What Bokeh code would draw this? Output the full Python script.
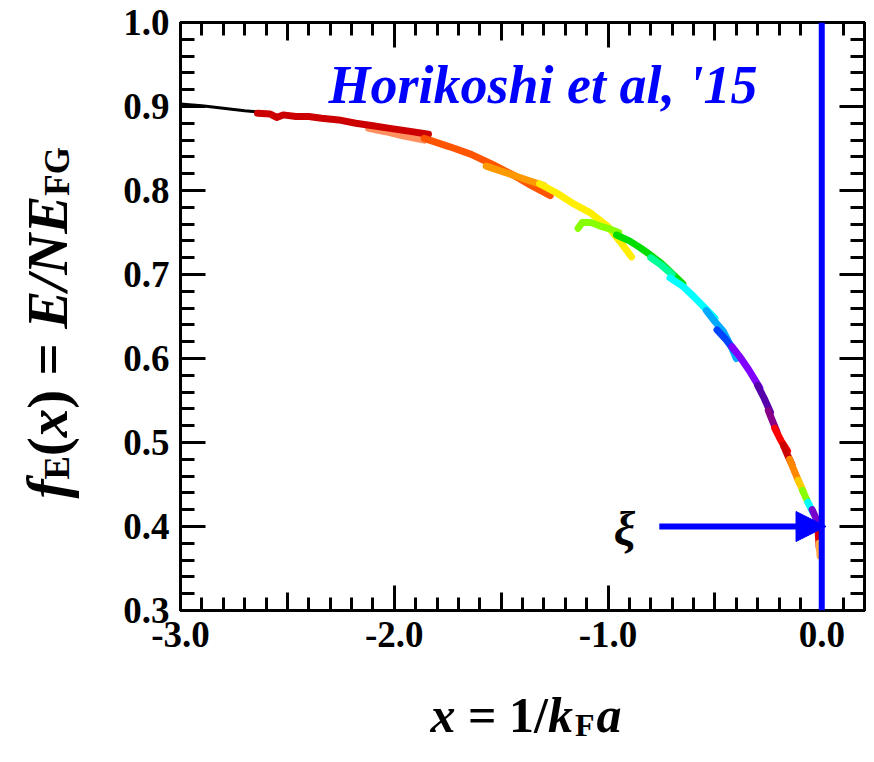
import math
from bokeh.plotting import figure
from bokeh.layouts import row, column
from bokeh.models import (Range1d, LinearAxis, FixedTicker, PrintfTickFormatter,
                          CustomJSTickFormatter, Span, Arrow, NormalHead, Label)
from bokeh.embed import file_html
from bokeh.resources import INLINE

# ---------------- data ----------------
black_x = [-3.00, -2.90, -2.80, -2.70, -2.62]
black_y = [0.903, 0.901, 0.898, 0.895, 0.893]

darkred_x = [-2.64, -2.58, -2.55, -2.52, -2.46, -2.40, -2.34, -2.26, -2.18, -2.10, -2.02, -1.94, -1.84]
darkred_y = [0.892, 0.891, 0.887, 0.890, 0.888, 0.888, 0.886, 0.884, 0.880, 0.877, 0.874, 0.871, 0.867]

salmon_x = [-2.12, -2.04, -1.96, -1.86]
salmon_y = [0.874, 0.870, 0.865, 0.860]

orangered_x = [-1.86, -1.74, -1.64, -1.54, -1.44, -1.36, -1.27]
orangered_y = [0.862, 0.852, 0.843, 0.831, 0.818, 0.806, 0.794]

orange_x = [-1.57, -1.50, -1.43, -1.36, -1.30]
orange_y = [0.829, 0.823, 0.817, 0.811, 0.806]

yellow_x = [-1.32, -1.24, -1.16, -1.08, -1.00, -0.94, -0.89]
yellow_y = [0.808, 0.797, 0.784, 0.773, 0.757, 0.738, 0.721]

ygreen_x = [-1.14, -1.12, -1.08, -1.04, -1.00, -0.95]
ygreen_y = [0.755, 0.762, 0.762, 0.758, 0.755, 0.750]

green_x = [-0.96, -0.90, -0.85, -0.80, -0.75, -0.70, -0.65]
green_y = [0.747, 0.740, 0.732, 0.723, 0.713, 0.701, 0.689]

mint_x = [-0.80, -0.75, -0.70]
mint_y = [0.720, 0.711, 0.700]

cyan_x = [-0.71, -0.65, -0.60, -0.55, -0.50]
cyan_y = [0.696, 0.686, 0.674, 0.661, 0.648]

sky_x = [-0.54, -0.50, -0.46, -0.42, -0.40]
sky_y = [0.657, 0.644, 0.632, 0.612, 0.600]

blue_x = [-0.49, -0.45, -0.41]
blue_y = [0.634, 0.623, 0.610]

violet_x = [-0.42, -0.38, -0.34, -0.29]
violet_y = [0.614, 0.601, 0.586, 0.565]

indigo_x = [-0.30, -0.27, -0.24]
indigo_y = [0.568, 0.553, 0.536]

purple_x = [-0.25, -0.21]
purple_y = [0.538, 0.513]

red_x = [-0.22, -0.19, -0.16]
red_y = [0.517, 0.502, 0.490]

darkred2_x = [-0.18, -0.16, -0.14]
darkred2_y = [0.497, 0.485, 0.474]

orange2_x = [-0.15, -0.13, -0.105]
orange2_y = [0.480, 0.467, 0.452]

yellow2_x = [-0.11, -0.085]
yellow2_y = [0.455, 0.441]

green2_x = [-0.09, -0.065]
green2_y = [0.443, 0.429]

cyan2_x = [-0.065, -0.04]
cyan2_y = [0.429, 0.416]

purple2_x = [-0.045, -0.01]
purple2_y = [0.420, 0.400]

redtail_x = [-0.018, -0.012]
redtail_y = [0.398, 0.375]

orangetail_x = [-0.012, -0.008]
orangetail_y = [0.380, 0.365]

xi_value = 0.40          # E/N E_FG at unitarity (arrow level)
arrow_from_x = -0.76

x_ticks = [-3.0, -2.0, -1.0, 0.0]
x_mid_ticks = [-2.5, -1.5, -0.5]
y_ticks = [0.3, 0.4, 0.5, 0.6, 0.7, 0.8, 0.9, 1.0]

# ---------------- layout ----------------
W, H = 874, 762
L = 116         # width of the strip holding the y-axis title
HM = 680        # height of the main plot
FX0, FX1, FY0, FY1 = 180, 864, 22, 610   # frame, in page pixels
X_MIN, X_MAX, Y_MIN, Y_MAX = -3.0, 0.2, 0.3, 1.0

FONT = "Liberation Serif"

p = figure(width=W - L, height=HM, x_range=Range1d(X_MIN, X_MAX), y_range=Range1d(Y_MIN, Y_MAX),
           output_backend="svg", toolbar_location=None, title=None,
           x_axis_type=None, y_axis_type=None,
           min_border_left=FX0 - L, min_border_right=W - FX1,
           min_border_top=FY0, min_border_bottom=HM - FY1)
p.xgrid.visible = False
p.ygrid.visible = False
p.outline_line_color = "black"
p.outline_line_width = 3
p.background_fill_color = "white"
p.border_fill_color = "white"

x_minor = [round(-3.0 + 0.1 * i, 2) for i in range(33)]
y_minor = [round(0.3 + 0.02 * i, 2) for i in range(36)]


def axis(ticker, labels, major_len, minor_len, fixed=None):
    ax = LinearAxis(ticker=ticker,
                    major_tick_in=major_len, major_tick_out=0,
                    minor_tick_in=minor_len, minor_tick_out=0,
                    major_tick_line_width=3, minor_tick_line_width=3,
                    major_tick_line_color="black", minor_tick_line_color="black",
                    axis_line_width=3, axis_line_color="black")
    if labels:
        ax.formatter = PrintfTickFormatter(format="%.1f")
        ax.major_label_text_font = FONT
        ax.major_label_text_font_style = "bold"
        ax.major_label_text_font_size = "37px"
        ax.major_label_text_color = "black"
        ax.major_label_standoff = 11
    else:
        ax.formatter = CustomJSTickFormatter(code="return ''")
        ax.major_label_text_font_size = "2px"
        ax.major_label_standoff = 0
    if fixed is not None:
        ax.fixed_location = fixed
        ax.axis_line_color = None
    return ax


p.add_layout(axis(FixedTicker(ticks=x_ticks, minor_ticks=x_minor), True, 25, 13), "below")
p.add_layout(axis(FixedTicker(ticks=y_ticks, minor_ticks=y_minor), True, 25, 14), "left")
p.add_layout(axis(FixedTicker(ticks=x_ticks, minor_ticks=x_minor), False, 25, 13), "above")
p.add_layout(axis(FixedTicker(ticks=y_ticks, minor_ticks=y_minor), False, 25, 14), "right")
p.add_layout(axis(FixedTicker(ticks=x_mid_ticks, minor_ticks=[]), False, 18, 0, fixed=Y_MIN), "below")
p.add_layout(axis(FixedTicker(ticks=x_mid_ticks, minor_ticks=[]), False, 18, 0, fixed=Y_MAX), "above")

# ---------------- data curves ----------------
series = [
    (salmon_x, salmon_y, "#ff9060"),
    (darkred_x, darkred_y, "#cc0000"),
    (orangered_x, orangered_y, "#ff5500"),
    (orange_x, orange_y, "#ff9900"),
    (yellow_x, yellow_y, "#ffee00"),
    (ygreen_x, ygreen_y, "#88ff00"),
    (green_x, green_y, "#00dd00"),
    (mint_x, mint_y, "#00ff99"),
    (cyan_x, cyan_y, "#00ffff"),
    (sky_x, sky_y, "#00aaff"),
    (blue_x, blue_y, "#0044ff"),
    (violet_x, violet_y, "#8000ff"),
    (indigo_x, indigo_y, "#5500aa"),
    (purple_x, purple_y, "#880088"),
    (red_x, red_y, "#ff0000"),
    (darkred2_x, darkred2_y, "#cc0000"),
    (orange2_x, orange2_y, "#ff8800"),
    (yellow2_x, yellow2_y, "#ffcc00"),
    (green2_x, green2_y, "#88ff00"),
    (cyan2_x, cyan2_y, "#00ffff"),
    (purple2_x, purple2_y, "#7700cc"),
    (redtail_x, redtail_y, "#dd0000"),
    (orangetail_x, orangetail_y, "#ffaa44"),
]
p.line(black_x, black_y, line_color="black", line_width=3)
for xs, ys, c in series:
    p.line(xs, ys, line_color=c, line_width=7, line_join="round", line_cap="round")

# ---------------- annotations ----------------
p.add_layout(Span(location=0.0, dimension="height", line_color="#0000ff", line_width=6))
p.add_layout(Arrow(x_start=arrow_from_x, y_start=xi_value, x_end=0.02, y_end=xi_value,
                   line_color="#0000ff", line_width=6,
                   end=NormalHead(size=30, fill_color="#0000ff", line_color="#0000ff")))


def dx(px):
    return X_MIN + (px - FX0) / (FX1 - FX0) * (X_MAX - X_MIN)


def dy(py):
    return Y_MIN + (FY1 - py) / (FY1 - FY0) * (Y_MAX - Y_MIN)


def make_label(x, y, text, size, style="bold italic", color="black", angle=0.0,
               align="left", baseline="alphabetic"):
    return Label(x=x, y=y, text=text, text_font=FONT,
                 text_font_style=style, text_font_size=f"{size}px",
                 text_color=color, angle=angle, text_align=align,
                 text_baseline=baseline)


p.add_layout(make_label(dx(328), dy(84), "Horikoshi et al, '15", 54, color="#0000ff"))
p.add_layout(make_label(dx(624), dy(528), "\u03be", 48, align="center", baseline="middle"))


# ---------------- helper strips for the axis titles ----------------
def strip(w, h):
    f = figure(frame_width=w, frame_height=h, x_range=Range1d(0, w), y_range=Range1d(0, h),
               output_backend="svg", toolbar_location=None, title=None,
               x_axis_type=None, y_axis_type=None, min_border=0,
               min_border_left=0, min_border_right=0, min_border_top=0, min_border_bottom=0)
    f.xgrid.visible = False
    f.ygrid.visible = False
    f.outline_line_color = None
    f.background_fill_color = "white"
    f.border_fill_color = "white"
    return f


xs_fig = strip(W, H - HM)   # page origin (0, HM), full width
ys_fig = strip(L, HM)       # page origin (0, 0)


def put_x(text, px, py, size, style="bold italic"):
    xs_fig.add_layout(make_label(px, H - py, text, size, style=style))


def put_y(text, px, py, size, style="bold italic"):
    ys_fig.add_layout(make_label(px, HM - py, text, size, style=style, angle=math.pi / 2))


NB = "\u00a0"
# x axis title: x = 1/k_F a
XS, SUB = 50, 32
bx, by = 430, 714
put_x("x", bx, by, XS)
bx += 0.5 * XS
put_x(NB + "=" + NB + "1/", bx, by, XS, style="bold")
bx += 1.848 * XS
put_x("k", bx, by, XS)
bx += 0.5 * XS + 2
put_x("F", bx, by + 10, SUB, style="bold")
bx += 0.611 * SUB + 2
put_x("a", bx, by, XS)

# y axis title: f_E(x) = E/NE_FG (rotated)
YS, YSUB = 57, 35
base_x, sub_x = 47, 57
py = 476
put_y("f", base_x, py, YS)
py -= 0.333 * YS
put_y("E", sub_x, py, YSUB, style="bold")
py -= 0.667 * YSUB
put_y("(", base_x, py, YS, style="bold")
py -= 0.333 * YS
put_y("x", base_x, py, YS)
py -= 0.5 * YS
put_y(")" + NB + "=" + NB, base_x, py, YS, style="bold")
py -= 1.403 * YS
put_y("E/NE", base_x, py, YS)
py -= 2.334 * YS
put_y("FG", sub_x, py, YSUB, style="bold")

page = column(row(ys_fig, p, spacing=0), xs_fig, spacing=0)
open("out.html", "w").write(file_html(page, INLINE))
